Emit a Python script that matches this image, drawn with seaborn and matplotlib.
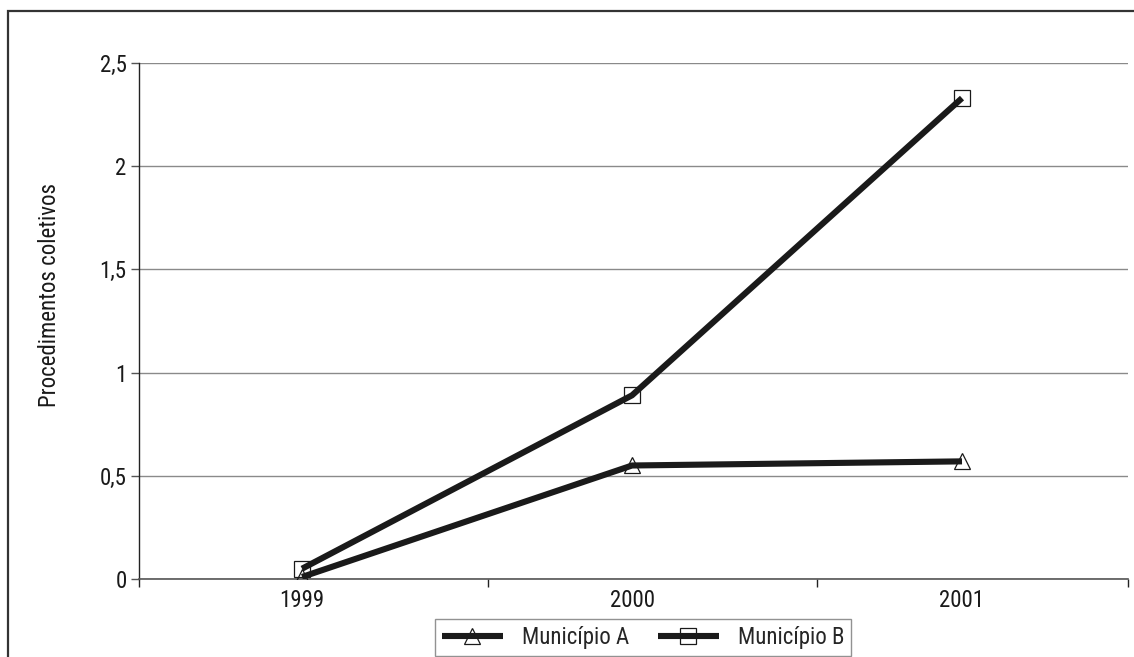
import matplotlib
matplotlib.use("Agg")
import matplotlib.pyplot as plt
from matplotlib.patches import Rectangle
from matplotlib.lines import Line2D
from matplotlib import font_manager
import pandas as pd
import seaborn as sns

# Procedimentos coletivos por ano
anos = ["1999", "2000", "2001"]
municipio_a = [0.01, 0.55, 0.57]
municipio_b = [0.05, 0.89, 2.33]
series_nomes = ["Município A", "Município B"]
y_ticks = [0, 0.5, 1, 1.5, 2, 2.5]
y_tick_labels = ["0", "0,5", "1", "1,5", "2", "2,5"]

sns.set_theme(style="white")

# Prefer a narrow sans face when one is installed
nomes_instalados = {f.name for f in font_manager.fontManager.ttflist}
estreitas = [n for n in ["Liberation Sans Narrow", "Arial Narrow", "Roboto Condensed",
                         "Open Sans Condensed", "DejaVu Sans"] if n in nomes_instalados]
plt.rcParams["font.family"] = estreitas + ["DejaVu Sans"]
plt.rcParams["font.stretch"] = "condensed"

FS = 16.5
COR = "#1a1a1a"

df = pd.DataFrame({
    "pos": list(range(len(anos))) * 2,
    "valor": municipio_a + municipio_b,
    "serie": [series_nomes[0]] * len(anos) + [series_nomes[1]] * len(anos),
})

fig = plt.figure(figsize=(11.34, 6.57), dpi=100)
ax = fig.add_axes([0.1226, 0.1187, 0.8721, 0.7854])

marcadores = {series_nomes[0]: "^", series_nomes[1]: "s"}
for nome in series_nomes:
    sub = df[df["serie"] == nome]
    sns.lineplot(data=sub, x="pos", y="valor", ax=ax, color=COR,
                 linewidth=4.4, marker=marcadores[nome], markersize=11,
                 markerfacecolor="none", markeredgecolor=COR,
                 markeredgewidth=0.9, solid_capstyle="butt",
                 legend=False, zorder=3)

ax.set_xlim(-0.494, 2.503)
ax.set_ylim(0, 2.5)
ax.set_yticks(y_ticks)
ax.set_yticklabels(y_tick_labels)
ax.set_xticks(range(len(anos)))
ax.set_xticklabels(anos)
ax.set_xticks([-0.494, 0.564, 1.561, 2.503], minor=True)

ax.yaxis.grid(True, color="#8a8a8a", linewidth=1.0)
ax.xaxis.grid(False)
ax.set_axisbelow(True)

for s in ["top", "right"]:
    ax.spines[s].set_visible(False)
ax.spines["left"].set_color("#222222")
ax.spines["left"].set_linewidth(1.0)
ax.spines["bottom"].set_color("#555555")
ax.spines["bottom"].set_linewidth(1.2)

ax.tick_params(axis="y", which="major", direction="out", length=6, width=1,
               color="#555555", labelsize=FS, labelcolor=COR, pad=3, left=True)
ax.tick_params(axis="x", which="major", length=0, labelsize=FS,
               labelcolor=COR, pad=7, bottom=True)
ax.tick_params(axis="x", which="minor", direction="out", length=6, width=1,
               color="#222222", bottom=True)

ax.set_xlabel("")
ax.set_ylabel("Procedimentos coletivos", fontsize=FS, color=COR)
ax.yaxis.set_label_coords(-0.079, 0.55)

# Moldura externa do gráfico
fig.patches.append(Rectangle((8 / 1134, -0.1), 1.2, (657 - 11) / 657 + 0.1,
                             transform=fig.transFigure, fill=False,
                             edgecolor="#333333", linewidth=1.6))

handles = [
    Line2D([], [], color=COR, linewidth=4.4, marker=marcadores[n],
           markersize=11, markerfacecolor="none", markeredgecolor=COR,
           markeredgewidth=0.9, solid_capstyle="butt")
    for n in series_nomes
]
leg = fig.legend(handles, series_nomes, loc="lower center",
                 bbox_to_anchor=(0.567, 0.002), ncol=2, frameon=True,
                 fancybox=False, edgecolor="#777777", fontsize=FS,
                 handlelength=2.66, columnspacing=1.27, handletextpad=0.83,
                 borderpad=0.3, borderaxespad=0)
leg.get_frame().set_linewidth(1.0)

fig.savefig("out.png", dpi=100)
